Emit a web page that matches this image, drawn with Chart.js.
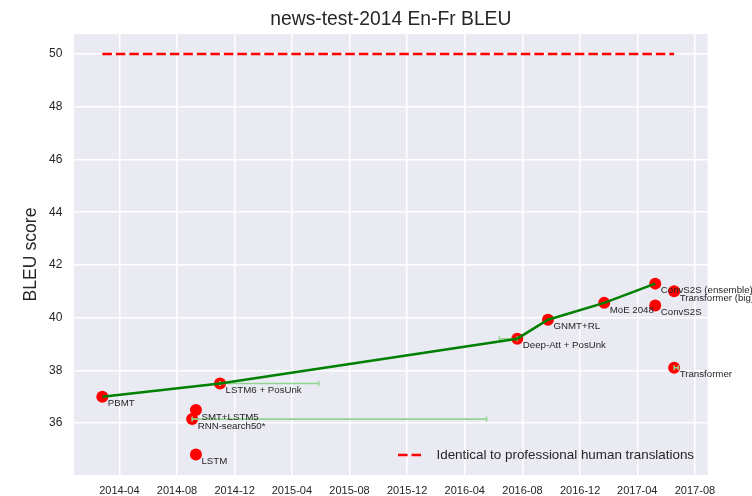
<!DOCTYPE html>
<html>
<head>
<meta charset="utf-8">
<script src="https://cdn.jsdelivr.net/npm/chart.js@4"></script>
<style>
  body { margin: 0; background: #fff; }
  #wrap { width: 752px; height: 496px; }
</style>
</head>
<body>
<div id="wrap"><canvas id="bleuChart" width="752" height="496"></canvas></div>
<script>
// Systems, publication dates and BLEU scores (news-test-2014 En-Fr)
const systems = ['PBMT', 'LSTM6 + PosUnk', 'SMT+LSTM5', 'RNN-search50*', 'LSTM',
    'Deep-Att + PosUnk', 'GNMT+RL', 'MoE 2048', 'ConvS2S (ensemble)', 'ConvS2S',
    'Transformer (big)', 'Transformer'];
const dates = ['2014-02-24', '2014-10-31', '2014-09-10', '2014-09-02', '2014-09-10',
    '2016-07-21', '2016-09-24', '2017-01-21', '2017-05-09', '2017-05-09',
    '2017-06-18', '2017-06-18'];
const scores = [37.0, 37.5, 36.5, 36.15, 34.81, 39.2, 39.92, 40.56, 41.29, 40.46, 41.0, 38.1];

// state of the art line
const sotaSystems = ['PBMT', 'LSTM6 + PosUnk', 'Deep-Att + PosUnk', 'GNMT+RL', 'MoE 2048', 'ConvS2S (ensemble)'];

// horizontal error bars (date ranges)
const errSystems = ['LSTM6 + PosUnk', 'RNN-search50*', 'Deep-Att + PosUnk', 'Transformer'];
const errFrom = ['2014-10-31', '2014-09-02', '2016-06-13', '2017-06-18'];
const errTo = ['2015-05-28', '2016-05-17', '2016-07-21', '2017-06-27'];

// human level line
const humanScore = 50;
const humanFrom = '2014-02-24';
const humanTo = '2017-06-18';
const humanLabel = 'Identical to professional human translations';

// axes
const xRange = ['2013-12-26', '2017-08-28'];
const xTicks = ['2014-04', '2014-08', '2014-12', '2015-04', '2015-08', '2015-12',
    '2016-04', '2016-08', '2016-12', '2017-04', '2017-08'];
const yRange = [34.03, 50.76];
const yTicks = [36, 38, 40, 42, 44, 46, 48, 50];

const toMs = s => {
    const p = s.split('-').map(Number);
    return Date.UTC(p[0], p[1] - 1, p[2] || 1);
};
const fmtMonth = v => {
    const d = new Date(v);
    return d.getUTCFullYear() + '-' + String(d.getUTCMonth() + 1).padStart(2, '0');
};

const textColor = '#262626';
const idx = name => systems.indexOf(name);

const datasets = [];

// Linha pontilhada: nível humano
datasets.push({
    type: 'line',
    data: [{ x: toMs(humanFrom), y: humanScore }, { x: toMs(humanTo), y: humanScore }],
    borderColor: '#ff0000',
    borderWidth: 2.6,
    borderDash: [9.5, 4],
    pointRadius: 0,
    order: 0
});

// SOTA line
datasets.push({
    type: 'line',
    data: sotaSystems.map(n => ({ x: toMs(dates[idx(n)]), y: scores[idx(n)] })),
    borderColor: '#008000',
    borderWidth: 2.6,
    pointRadius: 0,
    tension: 0,
    order: 1
});

// error bars
errSystems.forEach((n, i) => {
    const y = scores[idx(n)];
    datasets.push({
        type: 'line',
        data: [{ x: toMs(errFrom[i]), y: y }, { x: toMs(errTo[i]), y: y }],
        borderColor: '#92d592',
        borderWidth: 1.6,
        pointStyle: 'line',
        pointRotation: 90,
        pointRadius: 2.5,
        pointBorderColor: '#92d592',
        pointBorderWidth: 1.5,
        order: 2
    });
});

// points
datasets.push({
    type: 'scatter',
    data: systems.map((n, i) => ({ x: toMs(dates[i]), y: scores[i] })),
    backgroundColor: '#ff0000',
    pointRadius: 6,
    pointBorderWidth: 0,
    order: 3
});

const plotBackground = {
    id: 'plotBackground',
    beforeDraw(chart) {
        const { ctx, chartArea: a } = chart;
        ctx.save();
        ctx.fillStyle = '#EAEAF2';
        ctx.fillRect(a.left, a.top, a.right - a.left, a.bottom - a.top);
        ctx.restore();
    }
};

const extras = {
    id: 'extras',
    afterDraw(chart) {
        const { ctx, chartArea: a, scales } = chart;
        ctx.save();
        ctx.fillStyle = textColor;

        // title
        ctx.font = '19.3px "Liberation Sans", Arial, sans-serif';
        ctx.textAlign = 'center';
        ctx.textBaseline = 'alphabetic';
        ctx.fillText('news-test-2014 En-Fr BLEU', (a.left + a.right) / 2, 25);

        // annotations
        ctx.font = '9.7px "Liberation Sans", Arial, sans-serif';
        ctx.textAlign = 'left';
        ctx.textBaseline = 'middle';
        systems.forEach((n, i) => {
            const px = scales.x.getPixelForValue(toMs(dates[i]));
            const py = scales.y.getPixelForValue(scores[i]);
            ctx.fillText(n, px + 5.5, py + 7);
        });

        // legend
        const ly = 455;
        ctx.strokeStyle = '#ff0000';
        ctx.lineWidth = 2.6;
        ctx.setLineDash([9.5, 4]);
        ctx.beginPath();
        ctx.moveTo(398, ly);
        ctx.lineTo(424, ly);
        ctx.stroke();
        ctx.setLineDash([]);
        ctx.font = '13.4px "Liberation Sans", Arial, sans-serif';
        ctx.fillText(humanLabel, 436.5, ly);
        ctx.restore();
    }
};

new Chart(document.getElementById('bleuChart'), {
    data: { datasets },
    options: {
        responsive: false,
        animation: false,
        layout: { padding: { left: 0, top: 34, right: 44.3, bottom: 0 } },
        plugins: {
            legend: { display: false },
            tooltip: { enabled: false },
            title: { display: false }
        },
        scales: {
            x: {
                type: 'linear',
                min: toMs(xRange[0]),
                max: toMs(xRange[1]),
                afterBuildTicks: s => { s.ticks = xTicks.map(t => ({ value: toMs(t) })); },
                afterFit: s => { s.height = 21; },
                ticks: {
                    callback: v => fmtMonth(v),
                    color: textColor,
                    font: { size: 11, family: '"Liberation Sans", Arial, sans-serif' },
                    padding: 9,
                    maxRotation: 0,
                    autoSkip: false
                },
                grid: { color: '#ffffff', lineWidth: 1.5, drawTicks: false },
                border: { display: false }
            },
            y: {
                min: yRange[0],
                max: yRange[1],
                afterBuildTicks: s => { s.ticks = yTicks.map(v => ({ value: v })); },
                afterFit: s => { s.width = 74; },
                ticks: {
                    color: textColor,
                    font: { size: 12, family: '"Liberation Sans", Arial, sans-serif' },
                    padding: 11.7
                },
                title: {
                    display: true,
                    text: 'BLEU score',
                    color: textColor,
                    font: { size: 17.6, family: '"Liberation Sans", Arial, sans-serif' },
                    padding: { top: 21, bottom: 0 }
                },
                grid: { color: '#ffffff', lineWidth: 1.5, drawTicks: false },
                border: { display: false }
            }
        }
    },
    plugins: [plotBackground, extras]
});
</script>
</body>
</html>
